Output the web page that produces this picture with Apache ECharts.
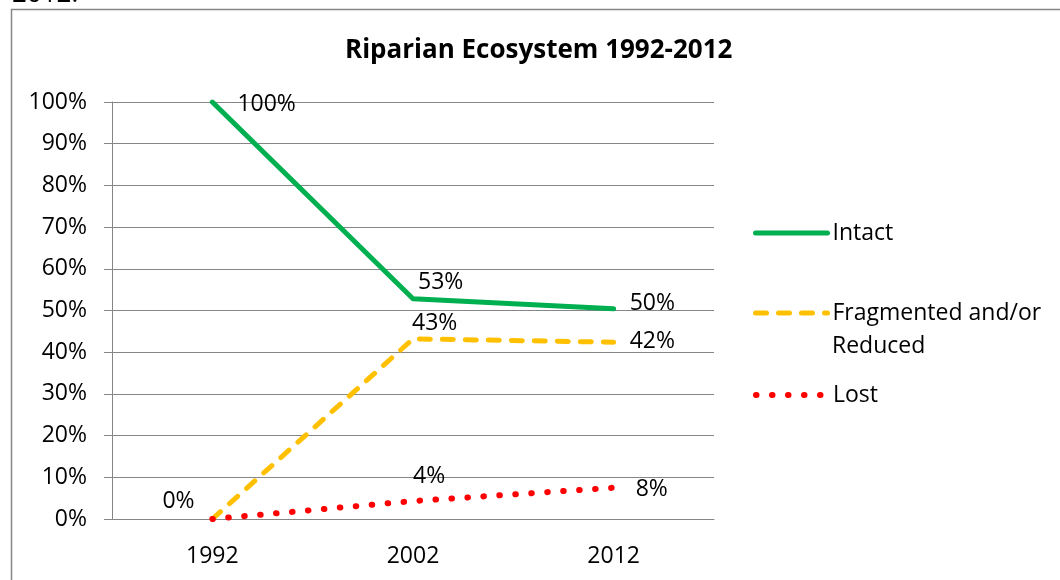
<!DOCTYPE html>
<html>
<head>
<meta charset="utf-8">
<script src="https://cdn.jsdelivr.net/npm/echarts@6/dist/echarts.min.js"></script>
<style>
  html, body { margin: 0; padding: 0; background: #fff; }
  #chart { width: 1060px; height: 580px; }
</style>
</head>
<body>
<div id="chart"></div>
<script>
// data
var years = ["1992", "2002", "2012"];
var intact = [100, 52.8, 50.4];
var fragmented = [0, 43.2, 42.4];
var lost = [0, 4.3, 7.5];
var yTicks = [0, 10, 20, 30, 40, 50, 60, 70, 80, 90, 100];

// label nudges (px) so they sit where Excel put them
var intactOffsets = [[25, 2], [5, -16], [16, -5]];
var fragOffsets = [[-50, -18], [-1, -15], [16, -1]];
var lostOffsets = [null, [0, -25], [22, 2]];

var FONT = "'Open Sans', 'Noto Sans', sans-serif";
var GRAY = "#868686";

function withLabels(values, offsets) {
  return values.map(function (v, i) {
    var off = offsets[i];
    if (!off) return { value: v, label: { show: false } };
    return { value: v, label: { offset: off } };
  });
}

function dashFor(lineType) {
  if (lineType === "dotted") return [0.5, 15.5];
  if (lineType === "dashed") return [11, 12];
  return "solid";
}

function lineSeries(name, values, offsets, color, lineType) {
  return {
    name: name,
    type: "line",
    data: withLabels(values, offsets),
    symbol: "circle",
    symbolSize: 0.1,
    itemStyle: { color: color },
    lineStyle: { color: color, width: lineType === "dotted" ? 6 : 5, type: dashFor(lineType), cap: "round", join: "round" },
    label: {
      show: true,
      position: "right",
      distance: 0,
      color: "#000",
      fontFamily: FONT,
      fontSize: 23,
      formatter: function (p) { return Math.round(p.value) + "%"; }
    },
    emphasis: { disabled: true },
    animation: false
  };
}

function legendFor(name, top, text, color, lineType) {
  return {
    data: [name],
    left: 753,
    top: top,
    padding: 0,
    orient: "vertical",
    itemWidth: 72,
    itemHeight: 14,
    selectedMode: false,
    itemStyle: { opacity: 0 },
    lineStyle: { color: color, width: lineType === "dotted" ? 6 : 5, type: dashFor(lineType), cap: "round", opacity: 1 },
    formatter: function () { return text; },
    textStyle: { color: "#000", fontFamily: FONT, fontSize: 23, lineHeight: 26 }
  };
}

var chart = echarts.init(document.getElementById("chart"));
chart.setOption({
  backgroundColor: "#fff",
  animation: false,
  title: {
    text: "Riparian Ecosystem 1992-2012",
    left: 340,
    top: 33,
    textStyle: { color: "#000", fontFamily: FONT, fontSize: 26, fontWeight: "bold" }
  },
  legend: [
    legendFor("Intact", 220, "Intact", "#00B050", "solid"),
    legendFor("Fragmented and/or Reduced", 300, "Fragmented and/or", "#FFC000", "dashed"),
    legendFor("Lost", 382, "Lost", "#FF0000", "dotted")
  ],
  grid: { left: 112, right: 346, top: 102, bottom: 61 },
  xAxis: {
    type: "category",
    data: years,
    boundaryGap: true,
    axisLine: { lineStyle: { color: GRAY, width: 1 } },
    axisTick: { show: false },
    axisLabel: { color: "#000", fontFamily: FONT, fontSize: 23, margin: 26 }
  },
  yAxis: {
    type: "value",
    min: yTicks[0],
    max: yTicks[yTicks.length - 1],
    interval: 10,
    axisLine: { show: true, lineStyle: { color: GRAY, width: 1 } },
    axisTick: { show: true, length: 8, lineStyle: { color: GRAY } },
    splitLine: { lineStyle: { color: GRAY, width: 1 } },
    axisLabel: { color: "#000", fontFamily: FONT, fontSize: 23, margin: 25, formatter: "{value}%" }
  },
  graphic: [
    {
      type: "rect",
      shape: { x: 11.5, y: 9.5, width: 1100, height: 620 },
      style: { fill: null, stroke: GRAY, lineWidth: 1.5 },
      silent: true
    },
    {
      type: "text",
      left: 832,
      top: 335,
      style: { text: "Reduced", fill: "#000", font: "23px " + FONT }
    },
    {
      type: "text",
      left: 12,
      top: -18,
      style: { text: "2012.", fill: "#000", font: "26px " + FONT }
    }
  ],
  series: [
    lineSeries("Intact", intact, intactOffsets, "#00B050", "solid"),
    lineSeries("Fragmented and/or Reduced", fragmented, fragOffsets, "#FFC000", "dashed"),
    lineSeries("Lost", lost, lostOffsets, "#FF0000", "dotted")
  ]
});
</script>
</body>
</html>
